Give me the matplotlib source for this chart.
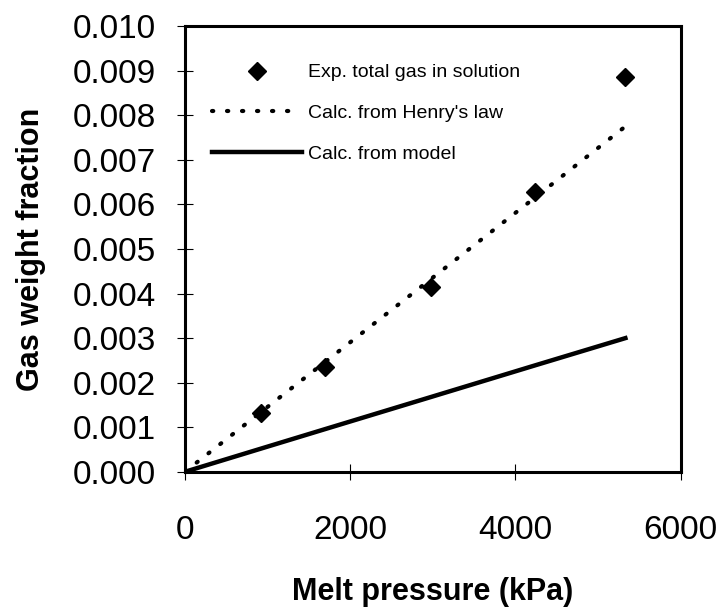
import matplotlib.pyplot as plt
import numpy as np

plt.rcParams['font.family'] = ['Liberation Sans', 'DejaVu Sans']

# experimental points
exp_p = [920, 1700, 2980, 4240, 5330]
exp_w = [0.00132, 0.00235, 0.00415, 0.00628, 0.00885]

# calculated curves
calc_p = [0, 920, 1700, 2980, 4240, 5330]
henry_w = [0, 0.00134, 0.00247, 0.00433, 0.00616, 0.00775]
model_w = [0, 0.00052, 0.00096, 0.00168, 0.00239, 0.00300]

fig = plt.figure(figsize=(7.25, 6.08), dpi=100)
ax = fig.add_axes([0.255, 0.224, 0.684, 0.733])

ax.plot(exp_p, exp_w, 'D', color='black', markersize=9, label='Exp. total gas in solution')
ax.plot(calc_p, henry_w, color='black', lw=3.0, linestyle=(0, (0.3, 3.3)),
        dash_capstyle='round', label="Calc. from Henry's law")
ax.plot(calc_p, model_w, color='black', lw=3.2, label='Calc. from model')

ax.set_xlim(0, 6000)
ax.set_ylim(0, 0.010)
ax.set_xticks([0, 2000, 4000, 6000])
ax.set_yticks(np.arange(0, 0.0101, 0.001))
ax.yaxis.set_major_formatter(plt.FormatStrFormatter('%.3f'))

ax.tick_params(axis='both', direction='inout', length=12, width=0.8, labelsize=24)
ax.tick_params(axis='x', pad=25)
ax.tick_params(axis='y', pad=15)

for s in ax.spines.values():
    s.set_linewidth(2.2)

ax.set_xlabel('Melt pressure (kPa)', fontsize=22, fontweight='heavy')
ax.set_ylabel('Gas weight fraction', fontsize=22, fontweight='heavy')
ax.xaxis.set_label_coords(0.5, -0.235)
ax.yaxis.set_label_coords(-0.28, 0.5)

leg = ax.legend(loc='upper left', bbox_to_anchor=(0.02, 0.955), frameon=False,
                fontsize=14, handlelength=4.6, handletextpad=0.3,
                labelspacing=1.2, numpoints=1)

fig.savefig('out.png', dpi=100)
